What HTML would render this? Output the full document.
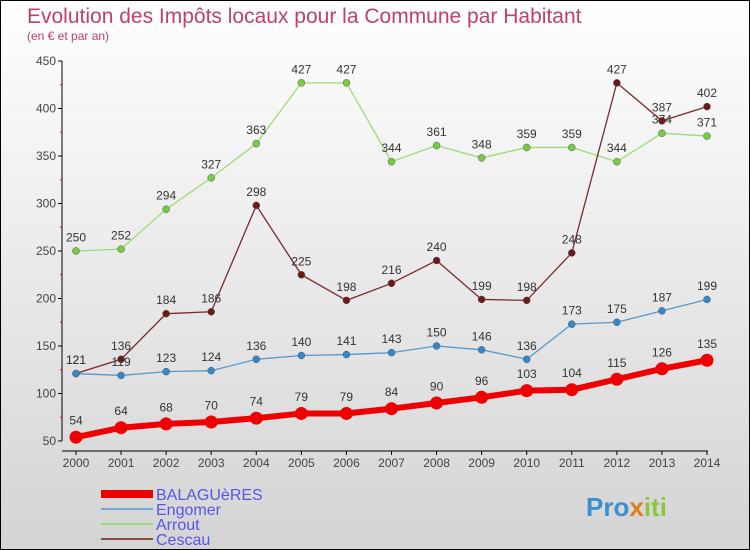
<!DOCTYPE html>
<html><head><meta charset="utf-8"><style>
body{margin:0;}
#c{width:750px;height:550px;position:relative;box-sizing:border-box;border:1px solid #000;background:linear-gradient(#ffffff,#d4d4d4);overflow:hidden;font-family:"Liberation Sans",sans-serif;}
svg text{font-family:"Liberation Sans",sans-serif;}
</style></head><body>
<div id="c">
<svg id="s" width="750" height="550">
<text x="26" y="22" font-size="21" fill="#c0406a">Evolution des Impôts locaux pour la Commune par Habitant</text>
<text x="26" y="39" font-size="12" fill="#c0406a">(en € et par an)</text>
<text x="585" y="515" font-size="26" font-weight="bold" fill="#3a8fd0">Pro<tspan fill="#e07b20">x</tspan><tspan fill="#8cc63f">iti</tspan></text>
</svg>
</div>
<script>
const years=[2000,2001,2002,2003,2004,2005,2006,2007,2008,2009,2010,2011,2012,2013,2014];
const balagueres=[54,64,68,70,74,79,79,84,90,96,103,104,115,126,135];
const engomer=[121,119,123,124,136,140,141,143,150,146,136,173,175,187,199];
const arrout=[250,252,294,327,363,427,427,344,361,348,359,359,344,374,371];
const cescau=[121,136,184,186,298,225,198,216,240,199,198,248,427,387,402];
const yTicks=[50,100,150,200,250,300,350,400,450];
const NS='http://www.w3.org/2000/svg';
const svg=document.getElementById('s');
const X=i=>75+i*(706-75)/(years.length-1);
const Y=v=>440-(v-50)*380/400;
function mk(t,a,name){const e=document.createElementNS(NS,t);for(const k in a)e.setAttribute(k,a[k]);


svg.appendChild(e);return e;}
mk('line',{x1:61,y1:Y(450),x2:61,y2:Y(50),stroke:'#000','stroke-width':1},'y-axis');
mk('line',{x1:61,y1:450,x2:707,y2:450,stroke:'#000','stroke-width':1},'x-axis');
yTicks.forEach(v=>{mk('line',{x1:57,y1:Y(v),x2:61,y2:Y(v),stroke:'#000'},'y-tick');
const t=mk('text',{x:55,y:Y(v)+4,'font-size':12,fill:'#444','text-anchor':'end'},'y-tick-label');t.textContent=v;
if(v<450)mk('line',{x1:59,y1:Y(v+25),x2:61,y2:Y(v+25),stroke:'#e00'},'y-minor-tick');});
years.forEach((y,i)=>{mk('line',{x1:X(i),y1:450,x2:X(i),y2:454,stroke:'#000'},'x-tick');
const t=mk('text',{x:X(i),y:466,'font-size':12,fill:'#444','text-anchor':'middle'},'x-tick-label');t.textContent=y;});
function series(d,color,w,r,dot,name){
mk('polyline',{points:d.map((v,i)=>X(i)+','+Y(v)).join(' '),fill:'none',stroke:color,'stroke-width':w},name+'-line');
d.forEach((v,i)=>{mk('circle',{cx:X(i),cy:Y(v),r:r,fill:dot,stroke:color==dot?'none':'#555','stroke-width':0.5},name+'-point');
const t=mk('text',{x:X(i),y:Y(v)-(r+6),'font-size':12,fill:'#333','text-anchor':'middle'},name+'-value-label');t.textContent=v;});}
series(arrout,'#99dd77',1.3,3.5,'#77cc44','arrout');
series(cescau,'#7a2a2a',1.3,3.5,'#6a1a1a','cescau');
series(engomer,'#5599cc',1.3,3.5,'#3388cc','engomer');
series(balagueres,'#ee0000',6,6.5,'#ee0000','balagueres');
const leg=[['BALAGUèRES','#ee0000',8],['Engomer','#6fa8cc',2],['Arrout','#99dd77',2],['Cescau','#8a4a4a',2]];
leg.forEach((l,i)=>{const y=493+i*15;
mk('line',{x1:100,y1:y,x2:152,y2:y,stroke:l[1],'stroke-width':l[2]},'legend-swatch');
const t=mk('text',{x:155,y:y+6,'font-size':16,fill:'#5555ee'},'legend-entry');t.textContent=l[0];});
</script>
</body></html>
